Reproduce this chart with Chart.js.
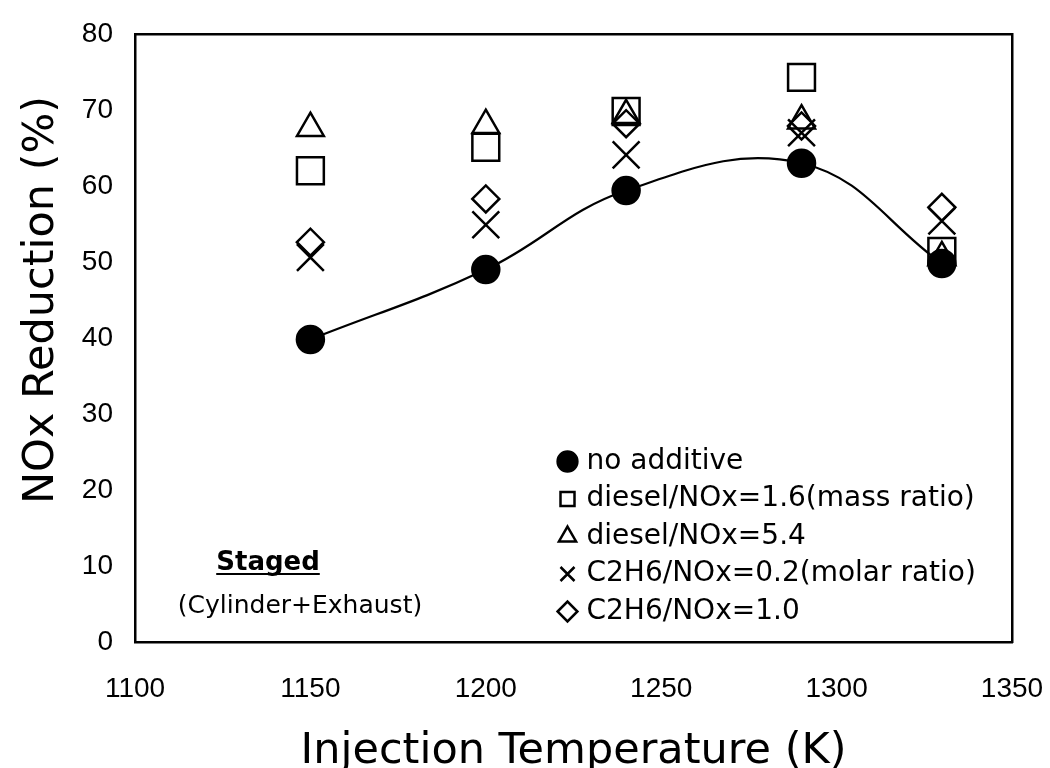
<!DOCTYPE html>
<html>
<head>
<meta charset="utf-8">
<script src="https://cdn.jsdelivr.net/npm/chart.js@4.4.1/dist/chart.umd.min.js"></script>
<style>
  html, body { margin: 0; padding: 0; background: #ffffff; }
  #c { display: block; }
</style>
</head>
<body>
<canvas id="c" width="1050" height="768"></canvas>
<script>
// ---- data ----
const temperatures = [1150, 1200, 1240, 1290, 1330];
const noAdditive   = [39.8, 49.0, 59.4, 63.0, 49.8];
const diesel16     = [62.0, 65.1, 69.8, 74.3, 51.4];
const diesel54     = [67.6, 68.0, 69.3, 68.6, 50.6];
const c2h6_02      = [50.6, 54.9, 64.1, 67.0, 55.4];
const c2h6_10      = [52.6, 58.3, 68.2, 67.9, 57.2];
const seriesNames  = ['no additive', 'diesel/NOx=1.6(mass ratio)', 'diesel/NOx=5.4',
                      'C2H6/NOx=0.2(molar ratio)', 'C2H6/NOx=1.0'];
const xTickValues  = [1100, 1150, 1200, 1250, 1300, 1350];
const yTickValues  = [0, 10, 20, 30, 40, 50, 60, 70, 80];
const xTitle = 'Injection Temperature (K)';
const yTitle = 'NOx Reduction (%)';
const noteTitle = 'Staged';
const noteSub = '(Cylinder+Exhaust)';

const pts = arr => temperatures.map((t, i) => ({ x: t, y: arr[i] }));

const markerDefs = [
  { data: noAdditive, style: 'circle',   r: 13.5, fill: '#000' },
  { data: diesel16,   style: 'rect',     r: 19,   fill: 'rgba(0,0,0,0)' },
  { data: diesel54,   style: 'triangle', r: 15.5, fill: 'rgba(0,0,0,0)' },
  { data: c2h6_02,    style: 'crossRot', r: 19,   fill: 'rgba(0,0,0,0)' },
  { data: c2h6_10,    style: 'rectRot',  r: 13.5, fill: 'rgba(0,0,0,0)' }
];

const datasets = markerDefs.map((m, i) => ({
  label: seriesNames[i],
  data: pts(m.data),
  showLine: false,
  pointStyle: m.style,
  pointRadius: m.r,
  pointHoverRadius: m.r,
  pointBackgroundColor: m.fill,
  pointBorderColor: '#000',
  pointBorderWidth: 2.5,
  backgroundColor: m.fill,
  borderColor: '#000',
  borderWidth: 2.5
}));
// fitted curve through the "no additive" points
datasets.push({
  label: 'fit',
  data: pts(noAdditive),
  showLine: true,
  tension: 0.4,
  borderColor: '#000',
  borderWidth: 2.2,
  pointRadius: 0,
  pointHoverRadius: 0,
  fill: false
});

const legendMover = {
  id: 'legendMover',
  afterLayout(chart) {
    const lg = chart.legend;
    if (!lg) return;
    lg.left = 553;
    lg.top = 438;
    lg.right = lg.left + 430;
    lg.bottom = lg.top + 300;
  }
};

// the y-axis title sits a little above the middle of the axis in the reference
const yTitleShift = {
  id: 'yTitleShift',
  beforeDraw(chart) {
    const s = chart.scales.y;
    if (!s || s.__shifted) return;
    const orig = s.drawTitle;
    s.drawTitle = function (...args) {
      const c = this.ctx;
      c.save();
      c.translate(0, -38);
      orig.apply(this, args);
      c.restore();
    };
    s.__shifted = true;
  }
};

const notes = {
  id: 'notes',
  afterDraw(chart) {
    const ctx = chart.ctx;
    ctx.save();
    ctx.fillStyle = '#000';
    ctx.strokeStyle = '#000';
    ctx.textAlign = 'center';
    ctx.textBaseline = 'alphabetic';
    ctx.font = 'bold 26px "DejaVu Sans"';
    const sx = 268, sy = 570;
    ctx.fillText(noteTitle, sx, sy);
    const w = ctx.measureText(noteTitle).width;
    ctx.lineWidth = 2;
    ctx.beginPath();
    ctx.moveTo(sx - w / 2, sy + 4);
    ctx.lineTo(sx + w / 2, sy + 4);
    ctx.stroke();
    ctx.font = '25px "DejaVu Sans"';
    ctx.fillText(noteSub, 300, 613);
    ctx.restore();
  }
};

const tickFont = { family: '"Liberation Sans", Arial, sans-serif', size: 28 };
const titleFont = { family: '"DejaVu Sans", sans-serif', size: 43, lineHeight: 0.5 };
const plain = v => String(v);
const noPad = s => { s.paddingLeft = 0; s.paddingRight = 0; s.paddingTop = 0; s.paddingBottom = 0; };

new Chart(document.getElementById('c'), {
  type: 'scatter',
  data: { datasets },
  plugins: [legendMover, yTitleShift, notes],
  options: {
    responsive: false,
    animation: false,
    events: [],
    devicePixelRatio: 1,
    layout: { padding: { left: 0, top: 34, right: 38, bottom: 0 } },
    plugins: {
      tooltip: { enabled: false },
      legend: {
        position: 'chartArea',
        align: 'start',
        labels: {
          usePointStyle: true,
          boxWidth: 10,
          boxHeight: 14,
          padding: 9.5,
          color: '#000',
          font: { family: '"DejaVu Sans", sans-serif', size: 28 },
          filter: item => item.datasetIndex < 5
        }
      }
    },
    scales: {
      x: {
        type: 'linear',
        position: 'bottom',
        min: 1100, max: 1350,
        afterBuildTicks: s => { s.ticks = xTickValues.map(v => ({ value: v })); },
        afterFit: s => { s.height = 126; noPad(s); },
        grid: { display: false, drawTicks: false },
        border: { display: true, color: '#000', width: 2.5 },
        ticks: { color: '#000', font: tickFont, padding: 30, maxRotation: 0, callback: plain },
        title: { display: true, text: xTitle, color: '#000', font: titleFont, padding: { top: 0, bottom: 5 } }
      },
      y: {
        type: 'linear',
        position: 'left',
        min: 0, max: 80,
        afterBuildTicks: s => { s.ticks = yTickValues.map(v => ({ value: v })); },
        afterFit: s => { s.width = 135; noPad(s); },
        grid: { display: false, drawTicks: false },
        border: { display: true, color: '#000', width: 2.5 },
        ticks: { color: '#000', font: tickFont, padding: 22, callback: plain },
        title: { display: true, text: yTitle, color: '#000', font: titleFont, padding: { top: 31, bottom: 0 } }
      },
      xTop: {
        type: 'linear', axis: 'x', position: 'top', min: 1100, max: 1350,
        afterFit: s => { s.height = 0; noPad(s); },
        grid: { display: false, drawTicks: false },
        border: { display: true, color: '#000', width: 2.5 },
        ticks: { display: false }
      },
      yRight: {
        type: 'linear', axis: 'y', position: 'right', min: 0, max: 80,
        afterFit: s => { s.width = 0; noPad(s); },
        grid: { display: false, drawTicks: false },
        border: { display: true, color: '#000', width: 2.5 },
        ticks: { display: false }
      }
    }
  }
});
</script>
</body>
</html>
